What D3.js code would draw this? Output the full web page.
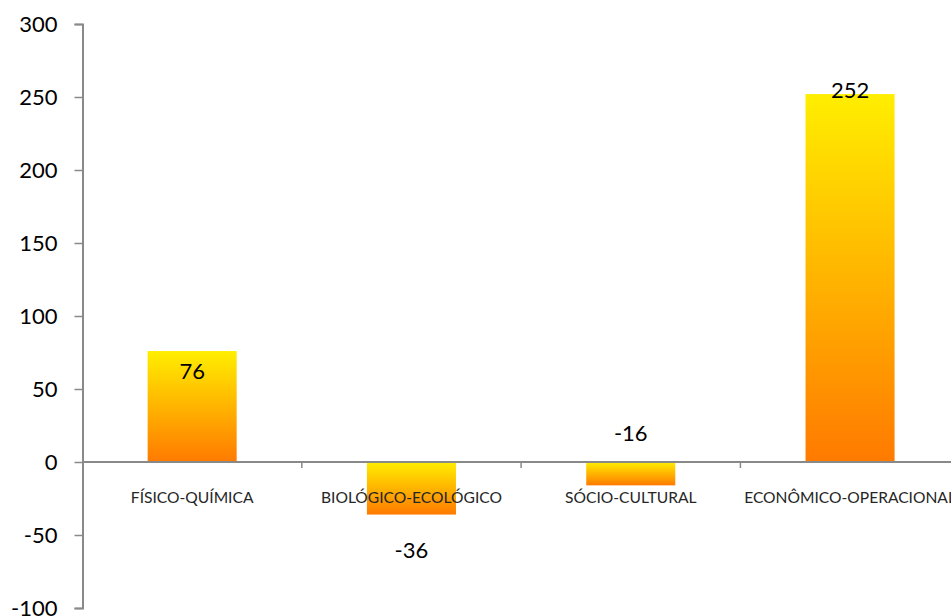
<!DOCTYPE html>
<html>
<head>
<meta charset="utf-8">
<script src="https://cdn.jsdelivr.net/npm/d3@7/dist/d3.min.js"></script>
<style>
  html, body { margin: 0; padding: 0; background: #fff; }
  svg { display: block; }
</style>
</head>
<body>
<svg id="chart" width="951" height="616"></svg>
<script>
// Indicator totals by environmental component
const categories = ["FÍSICO-QUÍMICA", "BIOLÓGICO-ECOLÓGICO", "SÓCIO-CULTURAL", "ECONÔMICO-OPERACIONAL"];
const values = [76, -36, -16, 252];
const yTicks = [-100, -50, 0, 50, 100, 150, 200, 250, 300];

// Vertical offset (px) of each value label's baseline from the bar's outer end
const labelOffset = [28, 43, -21, 4];

const W = 951, H = 616;
const svg = d3.select("#chart");
const axisColor = "#898989";
const font = "Lato, 'Open Sans', sans-serif";

const x = d3.scaleBand()
  .domain(categories)
  .range([82.5, 82.5 + 219.3 * categories.length])
  .paddingInner(0.594)
  .paddingOuter(0.297);

const y = d3.scaleLinear().domain([-100, 300]).range([608, 24]);

// Bar fill: yellow at the top fading into orange at the bottom
const defs = svg.append("defs");
const grad = defs.append("linearGradient")
  .attr("id", "barFill")
  .attr("x1", 0).attr("y1", 0).attr("x2", 0).attr("y2", 1);
grad.append("stop").attr("offset", "0%").attr("stop-color", "#FFEE00");
grad.append("stop").attr("offset", "50%").attr("stop-color", "#FFB400");
grad.append("stop").attr("offset", "100%").attr("stop-color", "#FF7A00");

// Bars
svg.append("g").selectAll("rect")
  .data(values)
  .join("rect")
  .attr("x", (d, i) => x(categories[i]))
  .attr("width", x.bandwidth())
  .attr("y", d => y(Math.max(0, d)))
  .attr("height", d => Math.abs(y(d) - y(0)))
  .attr("fill", "url(#barFill)");

// Y axis
const yAxis = svg.append("g")
  .attr("transform", "translate(82.5,0)")
  .call(d3.axisLeft(y).tickValues(yTicks).tickSize(8).tickPadding(17).tickFormat(d => String(d)));
yAxis.select(".domain").attr("stroke", axisColor).attr("stroke-width", 2);
yAxis.selectAll(".tick line").attr("stroke", axisColor).attr("stroke-width", 1.5);
yAxis.selectAll(".tick text")
  .attr("fill", "#000")
  .style("font-family", font)
  .style("font-size", "22px");

// Category axis along zero
const xAxis = svg.append("g").attr("transform", `translate(0,${y(0)})`);
xAxis.append("line")
  .attr("x1", 82.5).attr("x2", W)
  .attr("stroke", axisColor).attr("stroke-width", 2);
xAxis.selectAll("line.tick")
  .data(categories.slice(1))
  .join("line")
  .attr("class", "tick")
  .attr("x1", d => x(d) - x.step() * x.paddingInner() / 2)
  .attr("x2", d => x(d) - x.step() * x.paddingInner() / 2)
  .attr("y1", 0).attr("y2", 6)
  .attr("stroke", axisColor).attr("stroke-width", 1.5);

// Category labels
svg.append("g").selectAll("text")
  .data(categories)
  .join("text")
  .attr("x", d => x(d) + x.bandwidth() / 2)
  .attr("y", y(0) + 41)
  .attr("text-anchor", "middle")
  .attr("fill", "#262626")
  .style("font-family", font)
  .style("font-size", "15.6px")
  .text(d => d);

// Value labels
svg.append("g").selectAll("text")
  .data(values)
  .join("text")
  .attr("x", (d, i) => x(categories[i]) + x.bandwidth() / 2)
  .attr("y", (d, i) => {
    if (d >= 0) return y(d) + labelOffset[i];
    // negative bars: a negative offset sits above the zero line, otherwise below the bar
    return labelOffset[i] < 0 ? y(0) + labelOffset[i] : y(d) + labelOffset[i];
  })
  .attr("text-anchor", "middle")
  .attr("fill", "#000")
  .style("font-family", font)
  .style("font-size", "22px")
  .text(d => String(d));
</script>
</body>
</html>
